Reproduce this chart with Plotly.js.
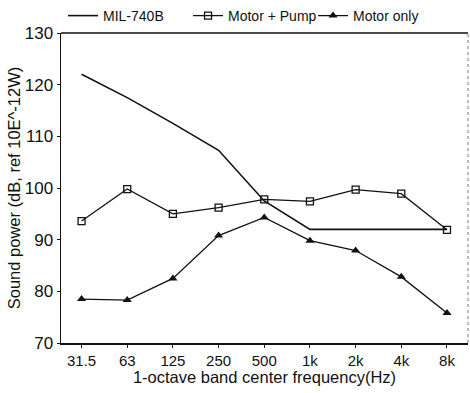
<!DOCTYPE html>
<html>
<head>
<meta charset="utf-8">
<script src="https://cdn.plot.ly/plotly-3.0.1.min.js"></script>
<style>html,body{margin:0;padding:0;background:#fff;}#chart{width:470px;height:393px;}</style>
</head>
<body>
<div id="chart"></div>
<script>
const categories = ["31.5", "63", "125", "250", "500", "1k", "2k", "4k", "8k"];
const milValues = [122, 117.5, 112.5, 107.3, 97.5, 92, 92, 92, 92];
const motorPumpValues = [93.6, 99.8, 95.0, 96.2, 97.8, 97.4, 99.7, 98.9, 91.9];
const motorOnlyValues = [78.5, 78.3, 82.5, 90.8, 94.3, 89.8, 87.9, 82.8, 75.8];
const yTicks = [70, 80, 90, 100, 110, 120, 130];

const font = "Liberation Sans, Arial, sans-serif";
const traces = [
  {x: categories, y: milValues, name: "MIL-740B", type: "scatter", mode: "lines",
   line: {color: "#111", width: 1.6}},
  {x: categories, y: motorPumpValues, name: "Motor + Pump", type: "scatter", mode: "lines+markers",
   line: {color: "#111", width: 1.3},
   marker: {symbol: "square-open", size: 7, color: "#111", line: {width: 1.3, color: "#111"}}},
  {x: categories, y: motorOnlyValues, name: "Motor only", type: "scatter", mode: "lines+markers",
   line: {color: "#111", width: 1.3},
   marker: {symbol: "triangle-up", size: 8, color: "#111"}}
];

const layout = {
  width: 470, height: 393,
  margin: {l: 61, r: 2, t: 33, b: 50},
  paper_bgcolor: "#fff", plot_bgcolor: "#fff",
  font: {family: font, color: "#111", size: 14},
  showlegend: true,
  legend: {orientation: "h", x: 0.005, xanchor: "left", y: 1, yref: "container", yanchor: "top",
           font: {size: 14, family: font, color: "#111"}, tracegroupgap: 0, itemwidth: 30,
           entrywidth: 80, entrywidthmode: "pixels",
           bgcolor: "rgba(0,0,0,0)"},
  xaxis: {type: "category", range: [-0.45, 8.46], showgrid: false, zeroline: false,
          showline: true, linecolor: "#111", linewidth: 1.5, mirror: false,
          ticks: "outside", ticklen: 3, tickcolor: "#111",
          tickfont: {size: 15, family: font, color: "#111"},
          title: {text: "1-octave band center frequency(Hz)", font: {size: 16.5, family: font, color: "#111"}, standoff: 0}},
  yaxis: {range: [70, 130], tickvals: yTicks, ticktext: yTicks.map(String), showgrid: false, zeroline: false,
          showline: true, linecolor: "#111", linewidth: 1.5,
          ticks: "outside", ticklen: 3, tickcolor: "#111",
          tickfont: {size: 17, family: font, color: "#111"},
          title: {text: "Sound power (dB, ref 10E^-12W)", font: {size: 16.5, family: font, color: "#111"}, standoff: 0}},
  shapes: [
    {type: "line", xref: "paper", yref: "paper", x0: 0, x1: 1, y0: 1, y1: 1, line: {color: "#111", width: 1.5}},
    {type: "line", xref: "paper", yref: "paper", x0: 1, x1: 1, y0: 0, y1: 1, line: {color: "#777", width: 1, dash: "dot"}}
  ]
};

Plotly.newPlot("chart", traces, layout, {displayModeBar: false, staticPlot: true});
</script>
</body>
</html>
